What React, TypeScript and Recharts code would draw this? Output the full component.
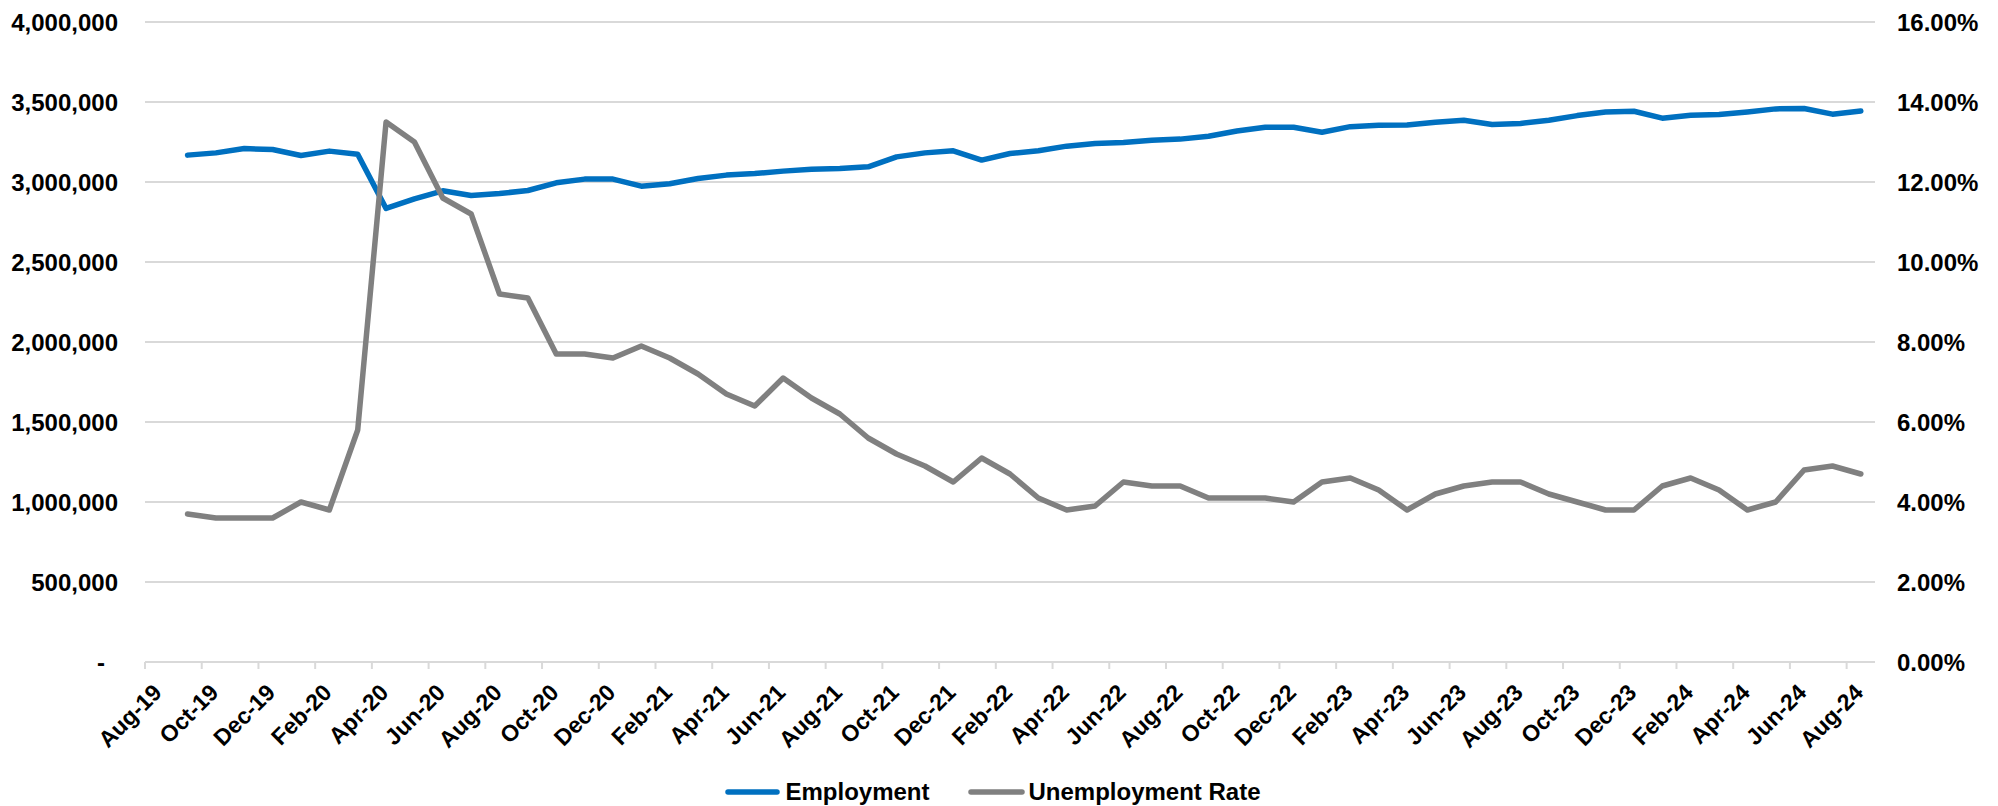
import { LineChart, Line, XAxis, YAxis, CartesianGrid, Legend } from 'recharts';

// One slot per month on the x axis, Aug-19 through Aug-24
const MONTHS = [
  'Aug-19', 'Sep-19', 'Oct-19', 'Nov-19', 'Dec-19',
  'Jan-20', 'Feb-20', 'Mar-20', 'Apr-20', 'May-20', 'Jun-20', 'Jul-20', 'Aug-20', 'Sep-20', 'Oct-20', 'Nov-20', 'Dec-20',
  'Jan-21', 'Feb-21', 'Mar-21', 'Apr-21', 'May-21', 'Jun-21', 'Jul-21', 'Aug-21', 'Sep-21', 'Oct-21', 'Nov-21', 'Dec-21',
  'Jan-22', 'Feb-22', 'Mar-22', 'Apr-22', 'May-22', 'Jun-22', 'Jul-22', 'Aug-22', 'Sep-22', 'Oct-22', 'Nov-22', 'Dec-22',
  'Jan-23', 'Feb-23', 'Mar-23', 'Apr-23', 'May-23', 'Jun-23', 'Jul-23', 'Aug-23', 'Sep-23', 'Oct-23', 'Nov-23', 'Dec-23',
  'Jan-24', 'Feb-24', 'Mar-24', 'Apr-24', 'May-24', 'Jun-24', 'Jul-24', 'Aug-24',
];

// series start in Sep-19 (slot 1)
const FIRST_SLOT = 1;

const EMPLOYMENT = [
  3168000, 3182000, 3209000, 3203000,
  3166000, 3193000, 3174000, 2835000, 2895000, 2945000, 2916000, 2928000, 2947000, 2995000, 3018000, 3018000,
  2974000, 2989000, 3022000, 3043000, 3053000, 3068000, 3080000, 3085000, 3095000, 3157000, 3182000, 3195000,
  3137000, 3178000, 3195000, 3224000, 3241000, 3247000, 3261000, 3268000, 3286000, 3319000, 3342000, 3342000,
  3311000, 3346000, 3355000, 3356000, 3374000, 3386000, 3359000, 3366000, 3386000, 3415000, 3438000, 3442000,
  3399000, 3417000, 3422000, 3438000, 3457000, 3459000, 3424000, 3444000,
];

const UNEMPLOYMENT_RATE = [
  3.7, 3.6, 3.6, 3.6,
  4.0, 3.8, 5.8, 13.5, 13.0, 11.6, 11.2, 9.2, 9.1, 7.7, 7.7, 7.6,
  7.9, 7.6, 7.2, 6.7, 6.4, 7.1, 6.6, 6.2, 5.6, 5.2, 4.9, 4.5,
  5.1, 4.7, 4.1, 3.8, 3.9, 4.5, 4.4, 4.4, 4.1, 4.1, 4.1, 4.0,
  4.5, 4.6, 4.3, 3.8, 4.2, 4.4, 4.5, 4.5, 4.2, 4.0, 3.8, 3.8,
  4.4, 4.6, 4.3, 3.8, 4.0, 4.8, 4.9, 4.7,
];

const X_TICKS = [0, 2, 4, 6, 8, 10, 12, 14, 16, 18, 20, 22, 24, 26, 28, 30, 32, 34, 36, 38, 40, 42, 44, 46, 48, 50, 52, 54, 56, 58, 60];
const LEFT_TICKS = [0, 500000, 1000000, 1500000, 2000000, 2500000, 3000000, 3500000, 4000000];
const RIGHT_TICKS = [0, 2, 4, 6, 8, 10, 12, 14, 16];

const BLUE = '#0070C0';
const GREY = '#808080';
const GRID = '#d9d9d9';
const FONT = '"Liberation Sans", Arial, sans-serif';

// each point sits in the middle of its month slot
const rows = EMPLOYMENT.map((v, i) => ({
  slot: FIRST_SLOT + i + 0.5,
  month: MONTHS[FIRST_SLOT + i],
  employment: v,
  rate: UNEMPLOYMENT_RATE[i],
}));

function MonthTick(props: any) {
  const { x, y, payload } = props;
  const tx = x + 18;
  const ty = y + 25;
  return (
    <text
      x={tx}
      y={ty}
      textAnchor="end"
      transform={`rotate(-45, ${tx}, ${ty})`}
      fontFamily={FONT}
      fontWeight="bold"
      fontSize={23}
      fill="#000"
    >
      {MONTHS[payload.value]}
    </text>
  );
}

function LeftTick(props: any) {
  const { x, y, payload } = props;
  const v = payload.value as number;
  // accounting style: zero shows as a dash padded from the right
  return (
    <text
      x={v === 0 ? x - 13 : x}
      y={y}
      dy="0.355em"
      textAnchor="end"
      fontFamily={FONT}
      fontWeight="bold"
      fontSize={24}
      fill="#000"
    >
      {v === 0 ? '-' : v.toLocaleString('en-US')}
    </text>
  );
}

function RightTick(props: any) {
  const { x, y, payload } = props;
  return (
    <text
      x={x}
      y={y}
      dy="0.355em"
      textAnchor="start"
      fontFamily={FONT}
      fontWeight="bold"
      fontSize={24}
      fill="#000"
    >
      {(payload.value as number).toFixed(2) + '%'}
    </text>
  );
}

function LegendContent() {
  const items = [
    { label: 'Employment', color: BLUE, len: 55, gap: 5 },
    { label: 'Unemployment Rate', color: GREY, len: 57, gap: 3 },
  ];
  return (
    <div
      style={{
        display: 'flex',
        justifyContent: 'center',
        alignItems: 'center',
        gap: 39,
        height: 30,
        fontFamily: FONT,
        fontWeight: 'bold',
        fontSize: 24,
        color: '#000',
      }}
    >
      {items.map((it) => (
        <div key={it.label} style={{ display: 'flex', alignItems: 'center' }}>
          <svg width={it.len} height={10} style={{ marginRight: it.gap }}>
            <line x1={3} y1={5} x2={it.len - 3} y2={5} stroke={it.color} strokeWidth={5.5} strokeLinecap="round" />
          </svg>
          <span style={{ lineHeight: '30px' }}>{it.label}</span>
        </div>
      ))}
    </div>
  );
}

export default function App() {
  return (
    <div style={{ position: 'absolute', left: 0, top: 0, width: 1998, height: 806, background: '#fff' }}>
      <LineChart width={1998} height={806} data={rows} margin={{ top: 22, right: 0, bottom: 0, left: 0 }}>
        <CartesianGrid yAxisId="left" vertical={false} stroke={GRID} strokeWidth={2} />
        <XAxis
          dataKey="slot"
          type="number"
          domain={[0, MONTHS.length]}
          ticks={X_TICKS}
          interval={0}
          height={144}
          axisLine={{ stroke: GRID, strokeWidth: 2 }}
          tickLine={{ stroke: GRID, strokeWidth: 2 }}
          tickSize={7}
          tickMargin={0}
          tick={<MonthTick />}
        />
        <YAxis
          yAxisId="left"
          orientation="left"
          width={145}
          domain={[0, 4000000]}
          ticks={LEFT_TICKS}
          interval={0}
          axisLine={false}
          tickLine={false}
          tickSize={0}
          tickMargin={27}
          tick={<LeftTick />}
        />
        <YAxis
          yAxisId="right"
          orientation="right"
          width={123}
          domain={[0, 16]}
          ticks={RIGHT_TICKS}
          interval={0}
          axisLine={false}
          tickLine={false}
          tickSize={0}
          tickMargin={22}
          tick={<RightTick />}
        />
        <Legend
          layout="horizontal"
          verticalAlign="middle"
          align="center"
          wrapperStyle={{ top: 777, left: 0, width: 1986 }}
          content={<LegendContent />}
        />
        <Line
          yAxisId="left"
          type="linear"
          dataKey="employment"
          name="Employment"
          stroke={BLUE}
          strokeWidth={5.5}
          strokeLinejoin="round"
          strokeLinecap="round"
          dot={false}
          activeDot={false}
          isAnimationActive={false}
        />
        <Line
          yAxisId="right"
          type="linear"
          dataKey="rate"
          name="Unemployment Rate"
          stroke={GREY}
          strokeWidth={5.5}
          strokeLinejoin="round"
          strokeLinecap="round"
          dot={false}
          activeDot={false}
          isAnimationActive={false}
        />
      </LineChart>
    </div>
  );
}
